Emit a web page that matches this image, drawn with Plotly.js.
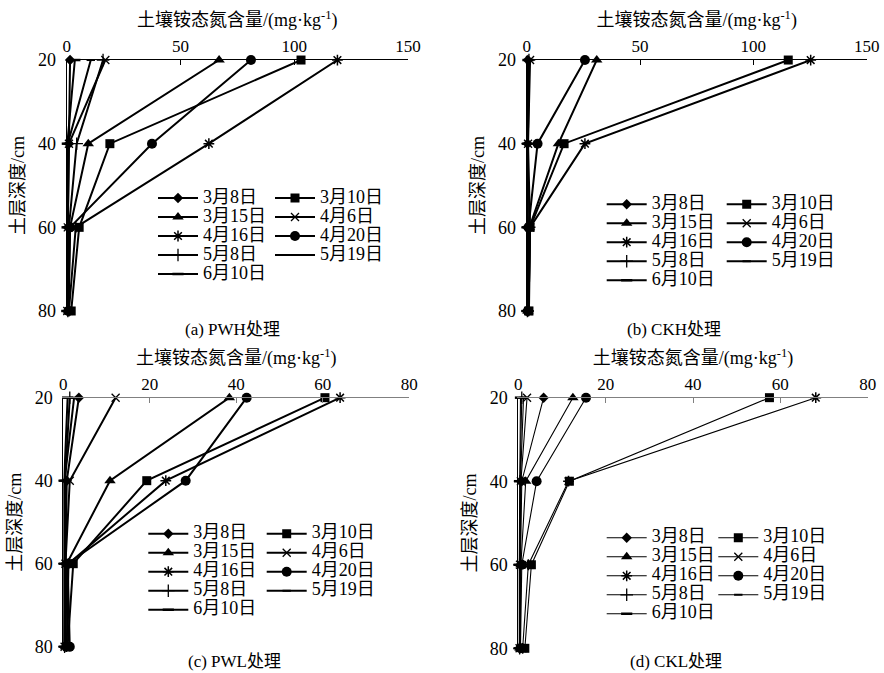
<!DOCTYPE html>
<html>
<head>
<meta charset="utf-8">
<script src="https://cdn.plot.ly/plotly-3.0.1.min.js"></script>
<style>body{margin:0;background:#fff}</style>
</head>
<body>
<div id="chart" style="width:884px;height:673px"></div>
<script>
// ---- data ----
const depth = [20, 40, 60, 80];
const dates = ['3月8日', '3月10日', '3月15日', '4月6日', '4月16日', '4月20日', '5月8日', '5月19日', '6月10日'];
const xTicksH = [0, 50, 100, 150];
const xTicksL = [0, 20, 40, 60, 80];
const yTicks = [20, 40, 60, 80];

// (a) PWH, one row per date, values at 20/40/60/80 cm
const PWH = [
  [1.5, 1.0, 0.5, 0.5],
  [103, 19, 5.5, 2.0],
  [67, 9.5, 1.5, 0.8],
  [17, 1.0, 0.5, 0.3],
  [119, 62.5, 4.0, 1.0],
  [81, 37.5, 1.5, 0.8],
  [16, 4.4, 1.0, 0.5],
  [10.6, 0.5, 0.3, 0.2],
  [3.6, 0.3, 0.2, 0.1]
];
// (b) CKH
const CKH = [
  [0.5, 0.4, 0.3, 0.2],
  [115.4, 16.5, 1.5, 1.0],
  [30.9, 14, 1.2, 0.5],
  [1.5, 0.6, 1.5, 0.8],
  [125.3, 25.7, 1.5, 0.8],
  [25.7, 4.8, 0.8, 0.5],
  [1.0, 0.5, 0.5, 0.3],
  [0.8, 0.4, 0.3, 0.2],
  [0.6, 0.3, 0.2, 0.2]
];
// (c) PWL
const PWL = [
  [3.6, 0.8, 0.5, 0.5],
  [60.5, 19.3, 2.3, 1.0],
  [38.4, 10.8, 0.8, 0.5],
  [12.1, 1.5, 0.5, 0.3],
  [64, 23.7, 1.2, 0.8],
  [42.4, 28.3, 1.0, 1.5],
  [1.5, 0.4, 0.3, 0.3],
  [2.5, 0.3, 0.5, 0.3],
  [1.0, 0.2, 0.2, 0.2]
];
// (d) CKL
const CKL = [
  [5.8, 0.8, 0.5, 0.4],
  [57.5, 11.7, 3.0, 1.5],
  [12.5, 1.7, 0.6, 0.4],
  [2.0, 0.6, 0.4, 0.3],
  [68.1, 11.5, 2.3, 1.0],
  [15.5, 4.2, 0.8, 0.5],
  [0.8, 0.4, 0.3, 0.3],
  [1.2, 0.5, 0.4, 0.3],
  [0.5, 0.3, 0.2, 0.2]
];
const captions = ['(a) PWH处理', '(b) CKH处理', '(c) PWL处理', '(d) CKL处理'];

// ---- styles ----
const FONT = 'Liberation Serif, "Noto Sans CJK SC", serif';
const markerStyles = [
  {symbol: 'diamond', size: 8},
  {symbol: 'square', size: 9},
  {symbol: 'triangle-up', size: 10},
  {symbol: 'x-thin-open', size: 8, line: {color: '#000', width: 1.3}},
  {symbol: 'asterisk-open', size: 9, line: {color: '#000', width: 1.5}},
  {symbol: 'circle', size: 10},
  {symbol: 'cross-thin-open', size: 9, line: {color: '#000', width: 1.3}},
  {symbol: 'line-ew-open', size: 6, line: {color: '#000', width: 2}},
  {symbol: 'line-ew-open', size: 8, line: {color: '#000', width: 2.5}}
];
const panels = [
  {data: PWH, dom: [[0.0754, 0.4615], [0.5379, 0.9108]], max: 150, ticks: xTicksH, lw: 2, axc: '#000',
   leg: [[153, 183.5], [270, 183.5]]},
  {data: CKH, dom: [[0.5958, 0.9804], [0.5379, 0.9108]], max: 150, ticks: xTicksH, lw: 2, axc: '#000',
   leg: [[601.7, 189.7], [721.7, 189.7]]},
  {data: PWL, dom: [[0.0716, 0.4630], [0.0391, 0.4091]], max: 80, ticks: xTicksL, lw: 2, axc: '#808080',
   leg: [[143.3, 519.2], [261.7, 519.2]]},
  {data: CKL, dom: [[0.5863, 0.9816], [0.0367, 0.4091]], max: 80, ticks: xTicksL, lw: 1.1, axc: '#808080',
   leg: [[601.7, 523.3], [713.3, 523.3]]}
];
const W = 884, H = 673;

const traces = [];
const layout = {
  width: W, height: H,
  margin: {l: 0, r: 0, t: 0, b: 0},
  paper_bgcolor: '#fff', plot_bgcolor: 'rgba(0,0,0,0)',
  font: {family: FONT, color: '#000', size: 18},
  annotations: []
};

panels.forEach((p, k) => {
  const sfx = k === 0 ? '' : String(k + 1);
  p.data.forEach((vals, i) => {
    const n = k * 2 + (i % 2) + 1;
    traces.push({
      type: 'scatter', mode: 'lines+markers',
      x: vals, y: depth,
      xaxis: 'x' + sfx, yaxis: 'y' + sfx,
      name: '<span style="font-size:18px">' + dates[i] + '</span>',
      legend: n === 1 ? 'legend' : 'legend' + n,
      line: {color: '#000', width: p.lw},
      marker: Object.assign({color: '#000'}, markerStyles[i]),
      cliponaxis: false
    });
  });
  layout['xaxis' + sfx] = {
    domain: p.dom[0], anchor: 'y' + sfx, side: 'top',
    range: [0, p.max], tickvals: p.ticks, ticktext: p.ticks.map(String),
    showline: true, linecolor: p.axc, linewidth: 1,
    ticks: 'inside', ticklen: 5, tickcolor: p.axc,
    showgrid: false, zeroline: false,
    tickfont: {size: 17, family: FONT},
    title: {text: '土壤铵态氮含量/(mg·kg<sup>-1</sup>)', font: {size: 18, family: FONT}, standoff: 5}
  };
  layout['yaxis' + sfx] = {
    domain: p.dom[1], anchor: 'x' + sfx,
    range: [80, 20], tickvals: yTicks,
    showline: true, linecolor: '#000', linewidth: 1,
    ticks: '', showgrid: false, zeroline: false,
    ticklabelstandoff: 6,
    tickfont: {size: 18, family: FONT},
    title: {text: '土层深度/cm', font: {size: 18, family: FONT}, standoff: 8}
  };
  p.leg.forEach((pos, c) => {
    const n = k * 2 + c + 1;
    layout[n === 1 ? 'legend' : 'legend' + n] = {
      x: pos[0] / W, y: 1 - pos[1] / H, xanchor: 'left', yanchor: 'top',
      bgcolor: 'rgba(0,0,0,0)', borderwidth: 0,
      font: {size: 12, family: FONT, color: '#000'},
      itemwidth: 40, tracegroupgap: 0, traceorder: 'normal',
      orientation: 'v'
    };
  });
});

const capPos = [[232, 329], [674, 329], [234, 661], [676, 661]];
captions.forEach((t, k) => {
  layout.annotations.push({
    text: t, xref: 'paper', yref: 'paper',
    x: capPos[k][0] / W, y: 1 - capPos[k][1] / H,
    xanchor: 'center', yanchor: 'middle', showarrow: false,
    font: {size: 17, family: FONT}
  });
});

Plotly.newPlot('chart', traces, layout, {displayModeBar: false, staticPlot: true});
</script>
</body>
</html>
